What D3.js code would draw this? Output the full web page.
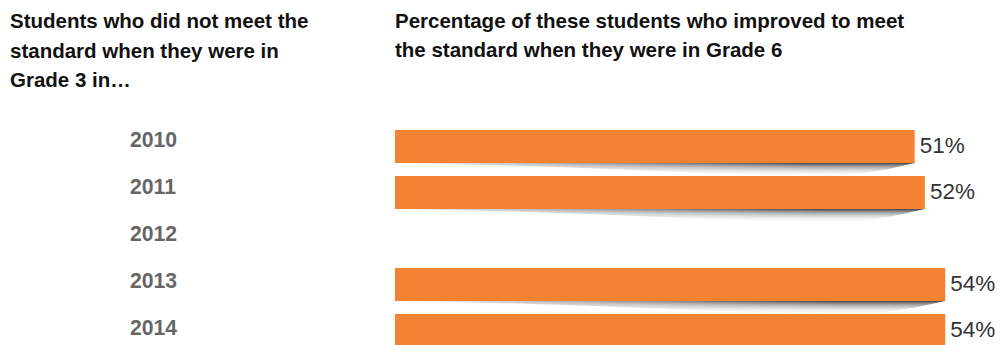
<!DOCTYPE html>
<html>
<head>
<meta charset="utf-8">
<script src="https://cdn.jsdelivr.net/npm/d3@7"></script>
<style>
  html, body { margin: 0; padding: 0; background: #fff; }
  svg { display: block; }
  text { font-family: "Liberation Sans", Arial, Helvetica, sans-serif; }
</style>
</head>
<body>
<svg id="chart" width="1001" height="345"></svg>
<script>
// ---- data ----
const years = ["2010", "2011", "2012", "2013", "2014"];
const percentages = [51, 52, null, 54, 54];
const leftTitle = ["Students who did not meet the", "standard when they were in", "Grade 3 in…"];
const rightTitle = ["Percentage of these students who improved to meet", "the standard when they were in Grade 6"];

const data = years.map((y, i) => ({ year: y, value: percentages[i] }));

const svg = d3.select("#chart");

const x = d3.scaleLinear().domain([0, 100]).range([395, 1414]);
const y = d3.scaleBand().domain(years).range([130, 347]).paddingInner(13 / 46).paddingOuter(0);
const yLabel = d3.scalePoint().domain(years).range([146.7, 335]);

// ---- defs: shadow gradients ----
const defs = svg.append("defs");
const vg = defs.append("linearGradient").attr("id", "shadeV")
  .attr("x1", 0).attr("y1", 0).attr("x2", 0).attr("y2", 1);
vg.append("stop").attr("offset", 0).attr("stop-color", "#222").attr("stop-opacity", 1);
vg.append("stop").attr("offset", 0.3).attr("stop-color", "#666").attr("stop-opacity", 0.65);
vg.append("stop").attr("offset", 0.7).attr("stop-color", "#aaa").attr("stop-opacity", 0.25);
vg.append("stop").attr("offset", 1).attr("stop-color", "#ddd").attr("stop-opacity", 0);

const hg = defs.append("linearGradient").attr("id", "shadeH")
  .attr("x1", 0).attr("y1", 0).attr("x2", 1).attr("y2", 0);
hg.append("stop").attr("offset", 0).attr("stop-color", "#fff").attr("stop-opacity", 0.05);
hg.append("stop").attr("offset", 0.4).attr("stop-color", "#fff").attr("stop-opacity", 0.55);
hg.append("stop").attr("offset", 0.8).attr("stop-color", "#fff").attr("stop-opacity", 1);
hg.append("stop").attr("offset", 1).attr("stop-color", "#fff").attr("stop-opacity", 1);

defs.append("filter").attr("id", "blur").attr("x", "-5%").attr("y", "-50%").attr("width", "110%").attr("height", "200%")
  .append("feGaussianBlur").attr("stdDeviation", 0.7);

// shadow profile (relative x along bar, depth in px)
const profile = [[0, 0], [0.25, 3], [0.5, 8], [0.7, 12], [0.83, 13], [0.93, 8], [0.975, 3], [1, 0]];

const valid = data.filter(d => d.value != null);

valid.forEach((d, i) => {
  const x0 = x(0), x1 = x(d.value), w = x1 - x0, b = y(d.year) + y.bandwidth();
  const m = defs.append("mask").attr("id", "m" + i).attr("maskUnits", "userSpaceOnUse")
    .attr("x", x0 - 5).attr("y", b - 2).attr("width", w + 10).attr("height", 24);
  m.append("rect").attr("x", x0).attr("y", b - 2).attr("width", w).attr("height", 24).attr("fill", "url(#shadeH)");

  const pts = profile.map(p => [x0 + p[0] * w, b + p[1]]);
  const line = d3.line().curve(d3.curveMonotoneX);
  const pathD = line(pts) + `L${x1},${b - 1}L${x0},${b - 1}Z`;
  svg.append("path").attr("d", pathD)
    .attr("fill", "url(#shadeV)")
    .attr("mask", `url(#m${i})`)
    .attr("filter", "url(#blur)");
});

// ---- bars ----
svg.selectAll("rect.bar").data(valid).join("rect")
  .attr("class", "bar")
  .attr("x", x(0))
  .attr("y", d => y(d.year))
  .attr("width", d => x(d.value) - x(0))
  .attr("height", y.bandwidth())
  .attr("fill", "#f58232");

// ---- value labels ----
svg.selectAll("text.val").data(valid).join("text")
  .attr("class", "val")
  .attr("x", d => x(d.value) + 5)
  .attr("y", d => y(d.year) + 23.3)
  .attr("font-size", 22.5)
  .attr("fill", "#333")
  .text(d => d.value + "%");

// ---- year labels ----
svg.selectAll("text.yr").data(years).join("text")
  .attr("class", "yr")
  .attr("x", 130)
  .attr("y", d => yLabel(d))
  .attr("font-size", 21.2)
  .attr("font-weight", "bold")
  .attr("fill", "#666")
  .text(d => d);

// ---- titles ----
svg.append("g").selectAll("text").data(leftTitle).join("text")
  .attr("x", 10)
  .attr("y", (d, i) => 28.3 + i * 29.4)
  .attr("font-size", 20.5)
  .attr("font-weight", "bold")
  .attr("fill", "#111")
  .text(d => d);

svg.append("g").selectAll("text").data(rightTitle).join("text")
  .attr("x", 395)
  .attr("y", (d, i) => 27.8 + i * 29.4)
  .attr("font-size", 20.5)
  .attr("font-weight", "bold")
  .attr("fill", "#111")
  .text(d => d);
</script>
</body>
</html>
